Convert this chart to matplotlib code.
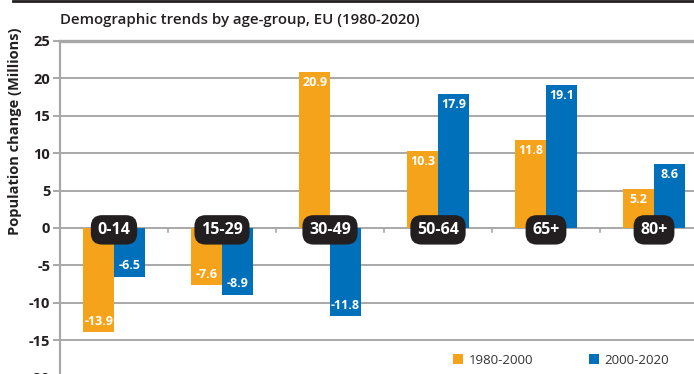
import matplotlib.pyplot as plt
from matplotlib.patches import Patch
import numpy as np

plt.rcParams['font.family'] = ['Open Sans', 'DejaVu Sans']

age_groups = ["0-14", "15-29", "30-49", "50-64", "65+", "80+"]
change_1980_2000 = [-13.9, -7.6, 20.9, 10.3, 11.8, 5.2]
change_2000_2020 = [-6.5, -8.9, -11.8, 17.9, 19.1, 8.6]
series_labels = ["1980-2000", "2000-2020"]
y_ticks = [-20, -15, -10, -5, 0, 5, 10, 15, 20, 25]

ORANGE = "#F6A31C"
BLUE = "#0070BA"
GRID = "#A8A8A8"
TEXT = "#231F20"

fig = plt.figure(figsize=(6.94, 3.74), dpi=100)
ax = fig.add_axes([60 / 694, -3.6 / 374, 648 / 694, 336.6 / 374])

x = np.arange(len(age_groups))
w = 0.285
b1 = ax.bar(x - w / 2, change_1980_2000, width=w, color=ORANGE, zorder=3)
b2 = ax.bar(x + w / 2, change_2000_2020, width=w, color=BLUE, zorder=3)

ax.set_xlim(-0.5, len(age_groups) - 0.5)
ax.set_ylim(-20, 25)
ax.set_yticks(y_ticks)
ax.set_yticklabels([str(t) for t in y_ticks], fontsize=10.5, fontweight='bold', color=TEXT)
ax.yaxis.grid(True, color=GRID, linewidth=1.4, zorder=0)
ax.tick_params(axis='y', length=5, width=1.4, color=GRID, pad=2)

# group boundary ticks sitting on the zero line
ax.set_xticks([])
for bx in np.arange(0.5, len(age_groups) - 0.5, 1.0):
    ax.plot([bx, bx], [0, -0.6], color=GRID, linewidth=1.2, zorder=2)

for side in ('top', 'right', 'bottom'):
    ax.spines[side].set_visible(False)
ax.spines['left'].set_color(GRID)
ax.spines['left'].set_linewidth(1.6)
ax.axhline(25, color=GRID, linewidth=2.4, zorder=1, clip_on=False)

ax.set_ylabel("Population change (Millions)", fontsize=10.5, fontweight='bold',
              color=TEXT, family=['Liberation Sans Narrow', 'Open Sans'])
ax.yaxis.set_label_coords(-0.059, 0.733)

# value labels inside the bar ends
for bars, vals in ((b1, change_1980_2000), (b2, change_2000_2020)):
    for rect, v in zip(bars, vals):
        cx = rect.get_x() + rect.get_width() / 2
        if v >= 0:
            ax.annotate(f"{v:.1f}", (cx, v), xytext=(0, -3), textcoords='offset points',
                        ha='center', va='top', color='white', fontsize=9,
                        fontweight='bold', zorder=5)
        else:
            ax.annotate(f"{v:.1f}", (cx, v), xytext=(0, 3), textcoords='offset points',
                        ha='center', va='bottom', color='white', fontsize=9,
                        fontweight='bold', zorder=5)

# category badges on the zero line
for xi, name in zip(x, age_groups):
    ax.text(xi, -0.25, name, ha='center', va='center', color='white', fontsize=11.5,
            fontweight='bold', zorder=6,
            bbox=dict(boxstyle='round,pad=0.42,rounding_size=0.7', facecolor=TEXT,
                      edgecolor='none'))

fig.text(60 / 694, 1 - 20 / 374, "Demographic trends by age-group, EU (1980-2020)",
         ha='left', va='center', fontsize=10.8, fontweight='semibold', color=TEXT)

# thin dark rule across the top
fig.add_artist(plt.Line2D([13 / 694, 1], [0.998, 0.998], color=TEXT, linewidth=2,
                          transform=fig.transFigure))

handles = [Patch(facecolor=ORANGE), Patch(facecolor=BLUE)]
fig.legend(handles, series_labels, loc='center left', bbox_to_anchor=(441 / 694, 1 - 360 / 374),
           ncol=2, frameon=False, fontsize=9.5, handlelength=0.8, handleheight=0.8,
           handletextpad=0.4, columnspacing=4.2, labelcolor='#333333')

fig.savefig("out.png", dpi=100)
